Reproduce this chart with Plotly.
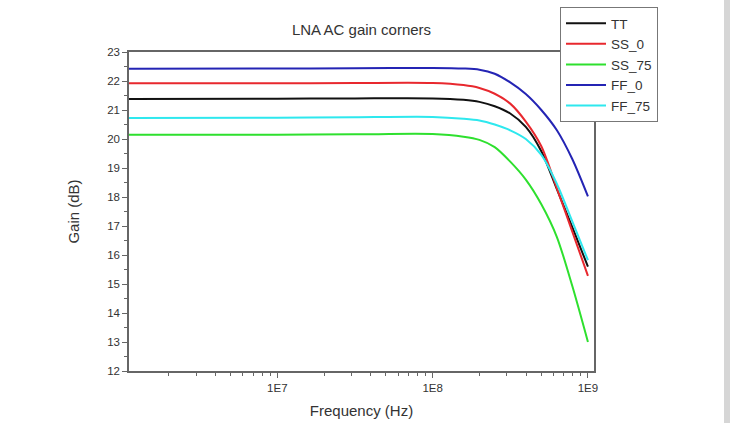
import plotly.graph_objects as go

# ---- data ----
freq_hz = [1.0e6, 1.0e7, 3.16e7, 1.0e8, 1.58e8, 2.0e8, 2.51e8, 3.16e8,
           3.98e8, 5.01e8, 6.31e8, 7.94e8, 1.0e9]

gain_tt    = [21.38, 21.39, 21.40, 21.40, 21.35, 21.28, 21.13, 20.88, 20.42, 19.58, 18.27, 16.95, 15.60]
gain_ss0   = [21.92, 21.92, 21.93, 21.93, 21.86, 21.76, 21.56, 21.22, 20.60, 19.75, 18.30, 16.80, 15.28]
gain_ss75  = [20.15, 20.15, 20.16, 20.17, 20.08, 19.97, 19.72, 19.22, 18.60, 17.75, 16.62, 14.92, 13.00]
gain_ff0   = [22.42, 22.43, 22.44, 22.45, 22.43, 22.39, 22.25, 21.95, 21.55, 21.00, 20.30, 19.30, 18.02]
gain_ff75  = [20.72, 20.73, 20.75, 20.76, 20.70, 20.64, 20.50, 20.30, 20.00, 19.45, 18.45, 17.15, 15.82]

series_names = ["TT", "SS_0", "SS_75", "FF_0", "FF_75"]
series_vals = [gain_tt, gain_ss0, gain_ss75, gain_ff0, gain_ff75]
series_colors = ["#111111", "#e8282e", "#2ee02e", "#2424b4", "#2ee8ee"]

x_tickvals = [1e7, 1e8, 1e9]
x_ticktext = ["1E7", "1E8", "1E9"]
x_minor = [m * 10 ** e for e in (6, 7, 8) for m in range(2, 10)]
y_tickvals = list(range(12, 24))
y_minor = [v + 0.5 for v in range(12, 23)]

FONT = "Liberation Sans, Arial, sans-serif"
TXT = "#333333"
AX = "#666666"

fig = go.Figure()
for name, vals, col in zip(series_names, series_vals, series_colors):
    fig.add_trace(go.Scatter(
        x=freq_hz, y=vals, name=name, mode="lines",
        line=dict(color=col, width=2, shape="spline", smoothing=0.8),
    ))

fig.update_layout(
    width=734, height=423,
    margin=dict(l=129, r=140, t=52, b=52, autoexpand=False),
    paper_bgcolor="white", plot_bgcolor="white",
    font=dict(family=FONT, color=TXT, size=11),
    title=dict(text="LNA AC gain corners", x=361.5 / 734, xanchor="center",
               y=1 - 30 / 423, yanchor="middle",
               font=dict(size=15, color=TXT, family=FONT)),
    showlegend=True,
    legend=dict(x=(560 - 129) / 465, y=(371 - 7) / 319, xanchor="left", yanchor="top",
                bgcolor="white", bordercolor="#777777", borderwidth=1,
                font=dict(size=13.5, color=TXT, family=FONT),
                tracegroupgap=0, itemwidth=40),
    shapes=[dict(type="rect", xref="paper", yref="paper",
                 x0=(724 - 129) / 465, x1=(730 - 129) / 465, y0=-0.3, y1=1.3,
                 fillcolor="#d6d6d6", line=dict(width=0), layer="above")],
)

fig.update_xaxes(
    type="log", range=[6.045, 9.039],
    showgrid=False, zeroline=False,
    showline=True, linecolor=AX, linewidth=1.5, mirror=True,
    ticks="outside", ticklen=5, tickwidth=1, tickcolor=AX,
    tickmode="array", tickvals=x_tickvals, ticktext=x_ticktext,
    tickfont=dict(size=11.5, color=TXT, family=FONT),
    minor=dict(tickmode="array", tickvals=x_minor, ticks="outside", ticklen=3,
               tickcolor=AX, tickwidth=1, showgrid=False),
    title=dict(text="Frequency (Hz)", standoff=13, font=dict(size=15, color=TXT, family=FONT)),
)
fig.update_yaxes(
    range=[12, 23],
    showgrid=False, zeroline=False,
    showline=True, linecolor=AX, linewidth=1.5, mirror=True,
    ticks="outside", ticklen=5, tickwidth=1, tickcolor=AX,
    tickmode="array", tickvals=y_tickvals,
    tickfont=dict(size=11.5, color=TXT, family=FONT),
    minor=dict(tickmode="array", tickvals=y_minor, ticks="outside", ticklen=3,
               tickcolor=AX, tickwidth=1, showgrid=False),
    title=dict(text="Gain (dB)", standoff=24, font=dict(size=15, color=TXT, family=FONT)),
)

fig.write_html("out.html")
